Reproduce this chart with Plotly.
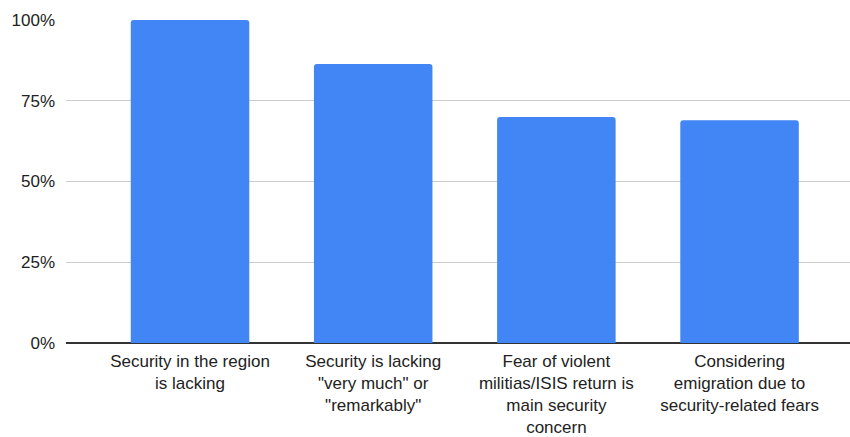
import plotly.graph_objects as go

categories = [
    "Security in the region<br>is lacking",
    "Security is lacking<br>\"very much\" or<br>\"remarkably\"",
    "Fear of violent<br>militias/ISIS return is<br>main security<br>concern",
    "Considering<br>emigration due to<br>security-related fears",
]
values = [100, 86.4, 70.0, 69.0]
y_ticks = [0, 25, 50, 75, 100]
y_tick_labels = ["0%", "25%", "50%", "75%", "100%"]

positions = list(range(len(categories)))

fig = go.Figure(
    go.Bar(
        x=positions,
        y=values,
        width=0.647,
        marker=dict(color="#4285F4", line=dict(width=0)),
        hoverinfo="skip",
    )
)

fig.update_layout(
    width=850,
    height=437,
    margin=dict(l=66, r=0, t=20, b=94),
    paper_bgcolor="white",
    plot_bgcolor="white",
    barcornerradius=3,
    showlegend=False,
    font=dict(family="Liberation Sans, Arial, sans-serif", size=17, color="#222222"),
)

fig.update_xaxes(
    range=[-0.677, 3.603],
    tickmode="array",
    tickvals=positions,
    ticktext=categories,
    showgrid=False,
    zeroline=False,
    showline=False,
    ticks="",
    ticklabelstandoff=6,
    automargin=False,
    tickfont=dict(size=17, color="#222222"),
    fixedrange=True,
)

fig.update_yaxes(
    range=[0, 100],
    tickmode="array",
    tickvals=y_ticks,
    ticktext=y_tick_labels,
    showgrid=True,
    gridcolor="#cccccc",
    gridwidth=1,
    zeroline=True,
    zerolinecolor="#333333",
    zerolinewidth=1.5,
    showline=False,
    ticks="",
    ticklabelstandoff=10,
    automargin=False,
    tickfont=dict(size=17, color="#222222"),
    fixedrange=True,
)

fig.write_html("out.html")
